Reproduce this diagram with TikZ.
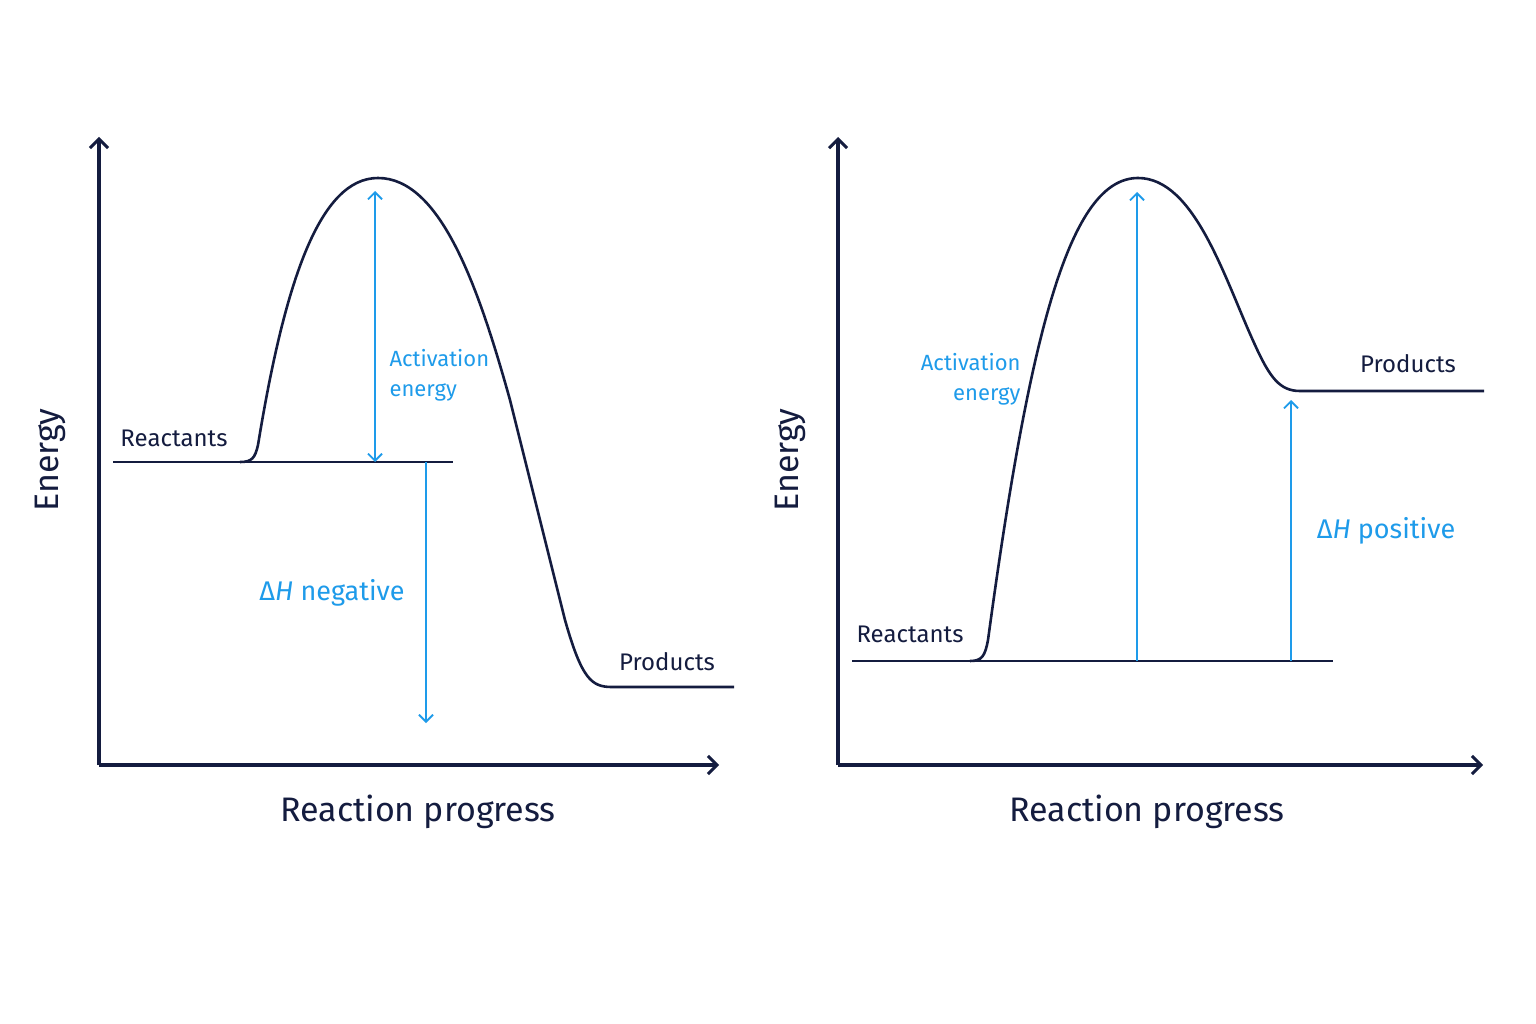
\documentclass[tikz,border=0pt]{standalone}
\usepackage{fontspec}
\setmainfont{Fira Sans}
\usetikzlibrary{arrows.meta}
\definecolor{navy}{HTML}{141C3F}
\definecolor{sky}{HTML}{1E9BEA}
\begin{document}
\begin{tikzpicture}[x=1pt,y=-1pt,
  ax/.style={navy,line width=3.4pt,-{Straight Barb[length=9pt,width=18pt,line width=3pt]}},
  crv/.style={navy,line width=2.6pt,line join=round},
  lvl/.style={navy,line width=2.6pt},
  bar/.style={sky,line width=1.8pt,-{Straight Barb[length=7pt,width=14pt,line width=1.8pt]}},
  bbar/.style={sky,line width=1.8pt,{Straight Barb[length=7pt,width=14pt,line width=1.8pt]}-{Straight Barb[length=7pt,width=14pt,line width=1.8pt]}},
  lab/.style={navy,font=\fontsize{24}{28}\selectfont},
  blab/.style={sky,font=\fontsize{22}{30}\selectfont},
  dh/.style={sky,font=\fontsize{27}{30}\selectfont},
  axl/.style={navy,font=\fontsize{34}{38}\selectfont}]
\useasboundingbox[fill=white] (0,0) rectangle (1536,1024);
% ---------- left panel
\coordinate (o1) at (99,765);
\coordinate (y1) at (99,137);
\coordinate (x1) at (719,765);
\draw[ax] (o1) -- (y1);
\draw[ax] (o1) -- (x1);
\coordinate (r1a) at (113,462); \coordinate (r1b) at (453,462);
\draw[lvl] (r1a) -- (r1b);
\draw[crv] (240,462) .. controls (252,462) and (255,458) .. (258,445)
  .. controls (285,280) and (320,178) .. (378,178)
  .. controls (440,178) and (478,285) .. (510,400)
  -- (565,620) .. controls (582,680) and (592,687) .. (612,687) -- (734,687);
\coordinate (a1t) at (375,191); \coordinate (a1b) at (375,462);
\draw[bbar] (a1t) -- (a1b);
\coordinate (d1t) at (426,462); \coordinate (d1b) at (426,723);
\draw[bar] (d1t) -- (d1b);
\node[lab] (rl1) at (174,438) {Reactants};
\node[lab] (pl1) at (667,662) {Products};
\node[blab,align=left,anchor=west] (al1) at (386,375) {Activation\\energy};
\node[dh] (dh1) at (332,593) {Δ\textit{H} negative};
\node[axl,rotate=90] (en1) at (50,460) {Energy};
\node[axl] (rp1) at (418,812) {Reaction progress};
% ---------- right panel
\coordinate (o2) at (838,765);
\coordinate (y2) at (838,137);
\coordinate (x2) at (1483,765);
\draw[ax] (o2) -- (y2);
\draw[ax] (o2) -- (x2);
\coordinate (r2a) at (852,661); \coordinate (r2b) at (1333,661);
\draw[lvl] (r2a) -- (r2b);
\draw[crv] (970,661) .. controls (982,661) and (985,656) .. (988,640)
  .. controls (1030,330) and (1070,178) .. (1138,178)
  .. controls (1195,178) and (1225,280) .. (1255,345)
  .. controls (1270,378) and (1280,391) .. (1300,391) -- (1484,391);
\coordinate (a2t) at (1137,192); \coordinate (a2b) at (1137,661);
\draw[bar] (a2b) -- (a2t);
\coordinate (d2t) at (1291,400); \coordinate (d2b) at (1291,661);
\draw[bar] (d2b) -- (d2t);
\node[lab] (rl2) at (910,634) {Reactants};
\node[lab] (pl2) at (1408,364) {Products};
\node[blab,align=right,anchor=east] (al2) at (1024,379) {Activation\\energy};
\node[dh] (dh2) at (1386,531) {Δ\textit{H} positive};
\node[axl,rotate=90] (en2) at (790,460) {Energy};
\node[axl] (rp2) at (1147,812) {Reaction progress};
\end{tikzpicture}
\end{document}
